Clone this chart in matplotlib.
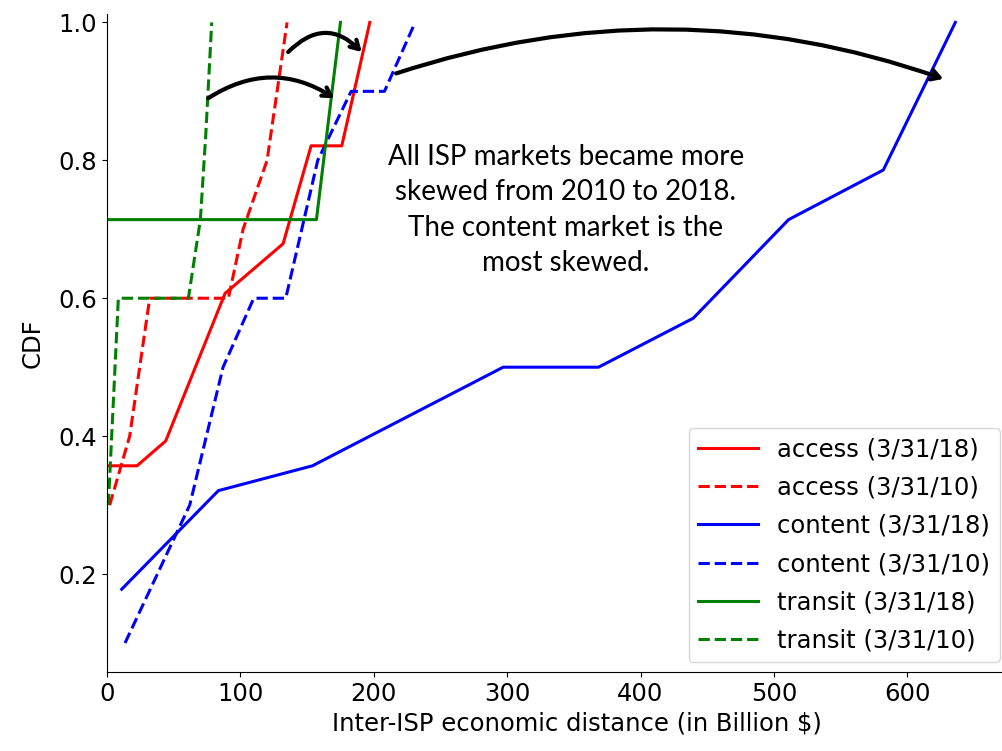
import numpy as np
import matplotlib
matplotlib.use("Agg")
import matplotlib.pyplot as plt

plt.rcParams['font.family'] = ['DejaVu Sans']

# CDF de la distancia economica entre ISPs
access_18_x = [0, 22.5, 44, 88.5, 132, 153, 176, 197]
access_18_y = [0.357, 0.357, 0.393, 0.607, 0.679, 0.821, 0.821, 1.0]

access_10_x = [2, 17, 32, 91, 102, 120, 135]
access_10_y = [0.3, 0.4, 0.6, 0.6, 0.7, 0.8, 1.0]

content_18_x = [11, 83.5, 154, 297, 368.5, 439.5, 511, 582, 636]
content_18_y = [0.178, 0.321, 0.357, 0.5, 0.5, 0.571, 0.714, 0.786, 1.0]

content_10_x = [13.5, 62, 87, 110, 134, 158, 183, 208, 231]
content_10_y = [0.1, 0.3, 0.5, 0.6, 0.6, 0.8, 0.9, 0.9, 1.0]

transit_18_x = [0, 157, 175]
transit_18_y = [0.714, 0.714, 1.0]

transit_10_x = [1, 8.5, 61, 70, 74, 78.5]
transit_10_y = [0.3, 0.6, 0.6, 0.714, 0.836, 1.0]

fig = plt.figure(figsize=(10.02, 7.51), dpi=100)
# el eje sigue un poco mas alla del borde derecho (recortado)
ax = fig.add_axes([0.1068, 0.1052, 0.9385, 0.876])

lw = 2.2
ax.plot(access_18_x, access_18_y, color="red", lw=lw, label="access (3/31/18)")
ax.plot(access_10_x, access_10_y, color="red", lw=lw, ls="--", label="access (3/31/10)")
ax.plot(content_18_x, content_18_y, color="blue", lw=lw, label="content (3/31/18)")
ax.plot(content_10_x, content_10_y, color="blue", lw=lw, ls="--", label="content (3/31/10)")
ax.plot(transit_18_x, transit_18_y, color="green", lw=lw, label="transit (3/31/18)")
ax.plot(transit_10_x, transit_10_y, color="green", lw=lw, ls="--", label="transit (3/31/10)")

fs = 17.5
ax.set_xlim(0, 705)
ax.set_ylim(0.058, 1.012)
ax.set_xticks([0, 100, 200, 300, 400, 500, 600])
ax.set_yticks([0.2, 0.4, 0.6, 0.8, 1.0])
ax.tick_params(labelsize=fs)
ax.spines["top"].set_visible(False)
ax.spines["right"].set_visible(False)
ax.set_xlabel("Inter-ISP economic distance (in Billion $)", fontsize=fs)
ax.set_ylabel("CDF", fontsize=fs, labelpad=10)

ax.legend(loc="lower right", bbox_to_anchor=(1000 / 1002, 89 / 751),
          bbox_transform=fig.transFigure, borderaxespad=0, fontsize=fs,
          handlelength=2.45, labelspacing=0.58)

# flechas: de 2010 a 2018
flechas = [
    ((75.8, 0.89), (170.5, 0.89), -0.32),
    ((135.8, 0.957), (191, 0.957), -0.5),
    ((216.8, 0.926), (627, 0.918), -0.17),
]
for (x0, y0), (x1, y1), rad in flechas:
    ax.annotate("", xy=(x1, y1), xytext=(x0, y0),
                arrowprops=dict(arrowstyle="->,head_length=0.6,head_width=0.35",
                                color="black", lw=3,
                                connectionstyle=f"arc3,rad={rad}",
                                shrinkA=0, shrinkB=0))

ax.text(344, 0.728, "All ISP markets became more\nskewed from 2010 to 2018.\n"
        "The content market is the\nmost skewed.",
        ha="center", va="center", fontsize=20, family="Lato", linespacing=1.45)

fig.savefig("out.png", dpi=100)
